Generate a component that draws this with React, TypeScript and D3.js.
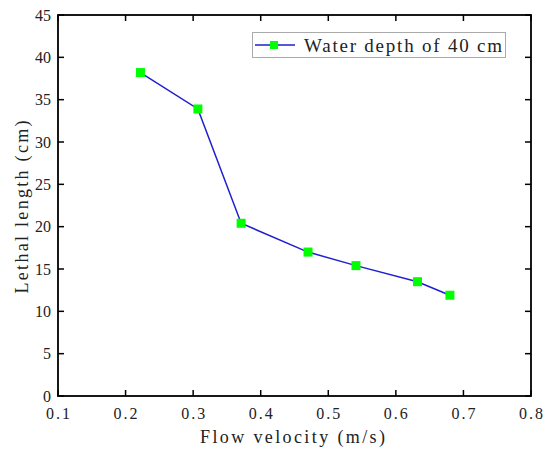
import React, { useEffect, useRef } from "react";
import * as d3 from "d3";

const velocity = [0.222, 0.307, 0.371, 0.47, 0.541, 0.632, 0.68];
const lethalLength = [38.2, 33.9, 20.4, 17.0, 15.4, 13.5, 11.9];
const xTicks = [0.1, 0.2, 0.3, 0.4, 0.5, 0.6, 0.7, 0.8];
const yTicks = [0, 5, 10, 15, 20, 25, 30, 35, 40, 45];
const seriesName = "Water depth of 40 cm";

const W = 550;
const H = 457;
const FONT = "'Liberation Serif', serif";

const App: React.FC = () => {
  const ref = useRef<SVGSVGElement | null>(null);

  useEffect(() => {
    const svg = d3.select(ref.current);
    svg.selectAll("*").remove();

    const left = 58, right = 531, top = 15, bottom = 396;
    const x = d3.scaleLinear().domain([0.1, 0.8]).range([left, right]);
    const y = d3.scaleLinear().domain([0, 45]).range([bottom, top]);
    const tickLen = 6;

    svg.append("rect").attr("width", W).attr("height", H).attr("fill", "#fff");

    // inward ticks on all four sides
    const g = svg.append("g").attr("stroke", "#000").attr("stroke-width", 1.5);
    xTicks.forEach(t => {
      g.append("line").attr("x1", x(t)).attr("x2", x(t)).attr("y1", bottom).attr("y2", bottom - tickLen);
      g.append("line").attr("x1", x(t)).attr("x2", x(t)).attr("y1", top).attr("y2", top + tickLen);
    });
    yTicks.forEach(t => {
      g.append("line").attr("x1", left).attr("x2", left + tickLen).attr("y1", y(t)).attr("y2", y(t));
      g.append("line").attr("x1", right).attr("x2", right - tickLen).attr("y1", y(t)).attr("y2", y(t));
    });

    svg.append("rect")
      .attr("x", left).attr("y", top)
      .attr("width", right - left).attr("height", bottom - top)
      .attr("fill", "none").attr("stroke", "#000").attr("stroke-width", 1.8);

    // tick labels
    svg.append("g").selectAll("text").data(xTicks).enter().append("text")
      .attr("x", d => x(d)).attr("y", bottom + 23)
      .attr("text-anchor", "middle")
      .attr("font-family", FONT).attr("font-size", 16).attr("fill", "#222")
      .attr("textLength", 24).attr("lengthAdjust", "spacing")
      .text(d => d.toFixed(1));
    svg.append("g").selectAll("text").data(yTicks).enter().append("text")
      .attr("x", left - 7).attr("y", d => y(d) + 5.5)
      .attr("text-anchor", "end")
      .attr("font-family", FONT).attr("font-size", 16).attr("fill", "#222")
      .text(d => String(d));

    // axis titles
    svg.append("text")
      .attr("x", 292.5).attr("y", 443)
      .attr("text-anchor", "middle")
      .attr("font-family", FONT).attr("font-size", 18).attr("fill", "#222")
      .attr("textLength", 185).attr("lengthAdjust", "spacing")
      .text("Flow velocity (m/s)");
    svg.append("text")
      .attr("transform", "translate(28,207) rotate(-90)")
      .attr("text-anchor", "middle")
      .attr("font-family", FONT).attr("font-size", 18).attr("fill", "#222")
      .attr("textLength", 173).attr("lengthAdjust", "spacing")
      .text("Lethal length (cm)");

    const data = velocity.map((v, i) => [v, lethalLength[i]] as [number, number]);
    const line = d3.line<[number, number]>().x(d => x(d[0])).y(d => y(d[1]));
    svg.append("path").datum(data)
      .attr("d", line)
      .attr("fill", "none").attr("stroke", "#1f1fcf").attr("stroke-width", 1.5);
    const ms = 9;
    svg.append("g").selectAll("rect").data(data).enter().append("rect")
      .attr("x", d => x(d[0]) - ms / 2).attr("y", d => y(d[1]) - ms / 2)
      .attr("width", ms).attr("height", ms).attr("fill", "#00ff00");

    // legend
    const lg = svg.append("g");
    lg.append("rect")
      .attr("x", 252.5).attr("y", 32.5).attr("width", 253).attr("height", 25)
      .attr("fill", "#fff").attr("stroke", "#aaa").attr("stroke-width", 1);
    lg.append("line").attr("x1", 255).attr("x2", 295).attr("y1", 45).attr("y2", 45)
      .attr("stroke", "#1f1fcf").attr("stroke-width", 1.5);
    lg.append("rect").attr("x", 274 - 4).attr("y", 45 - 4).attr("width", 8).attr("height", 8)
      .attr("fill", "#00ff00");
    lg.append("text")
      .attr("x", 304).attr("y", 52)
      .attr("font-family", FONT).attr("font-size", 19).attr("fill", "#222")
      .attr("textLength", 198).attr("lengthAdjust", "spacing")
      .text(seriesName);
  }, []);

  return (
    <svg
      ref={ref}
      width={W}
      height={H}
      style={{ position: "absolute", left: 0, top: 0 }}
    />
  );
};

export default App;
